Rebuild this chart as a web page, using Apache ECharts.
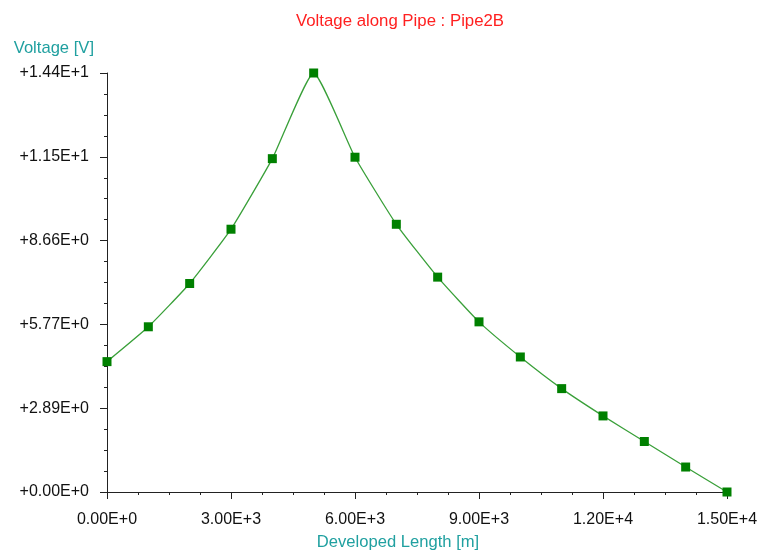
<!DOCTYPE html>
<html>
<head>
<meta charset="utf-8">
<title>Voltage along Pipe</title>
<script src="https://cdn.jsdelivr.net/npm/echarts@6/dist/echarts.min.js"></script>
<style>
  html, body { margin: 0; padding: 0; background: #fff; }
  #chart { width: 776px; height: 557px; }
</style>
</head>
<body>
<div id="chart"></div>
<script>
  // developed length [m] and voltage [V]
  const lengths = [0, 1000, 2000, 3000, 4000, 5000, 6000, 7000, 8000, 9000, 10000, 11000, 12000, 13000, 14000, 15000];
  const voltages = [4.49, 5.69, 7.18, 9.05, 11.48, 14.43, 11.53, 9.22, 7.40, 5.86, 4.65, 3.56, 2.62, 1.74, 0.86, 0.0];

  const xTickLabels = ["0.00E+0", "3.00E+3", "6.00E+3", "9.00E+3", "1.20E+4", "1.50E+4"];
  const yTickLabels = ["+0.00E+0", "+2.89E+0", "+5.77E+0", "+8.66E+0", "+1.15E+1", "+1.44E+1"];
  const xMax = 15000, xStep = 3000;
  const yMax = 14.43, yStep = 2.886;

  const font = "Liberation Sans, Arial, sans-serif";
  const teal = "#20a0a0";
  const axisColor = "#222";

  const chart = echarts.init(document.getElementById("chart"));
  chart.setOption({
    animation: false,
    title: {
      text: "Voltage along Pipe : Pipe2B",
      left: 291,
      top: 8,
      textStyle: { color: "#ff2020", fontFamily: font, fontSize: 16.8, fontWeight: "normal" },
    },
    grid: { left: 107, right: 49, top: 73, bottom: 65 },
    xAxis: {
      type: "value",
      min: 0,
      max: xMax,
      interval: xStep,
      name: "Developed Length [m]",
      nameLocation: "middle",
      nameGap: 42,
      nameTextStyle: { color: teal, fontFamily: font, fontSize: 16.6, padding: [0, 38, 0, 0] },
      axisLine: { show: true, lineStyle: { color: axisColor, width: 1 } },
      axisTick: { show: true, length: 7, lineStyle: { color: axisColor } },
      minorTick: { show: true, splitNumber: 4, length: 3, lineStyle: { color: axisColor } },
      splitLine: { show: false },
      axisLabel: {
        color: "#111",
        fontFamily: font,
        fontSize: 16,
        margin: 20,
        formatter: (v, i) => xTickLabels[i],
      },
    },
    yAxis: {
      type: "value",
      min: 0,
      max: yMax,
      interval: yStep,
      name: "Voltage [V]",
      nameLocation: "end",
      nameGap: 16,
      nameTextStyle: { color: teal, fontFamily: font, fontSize: 16.6, align: "right", padding: [0, 13, 0, 0] },
      axisLine: { show: true, lineStyle: { color: axisColor, width: 1 } },
      axisTick: { show: true, length: 7, lineStyle: { color: axisColor } },
      minorTick: { show: true, splitNumber: 4, length: 3, lineStyle: { color: axisColor } },
      splitLine: { show: false },
      axisLabel: {
        color: "#111",
        fontFamily: font,
        fontSize: 16,
        margin: 18,
        formatter: (v, i) => yTickLabels[i],
      },
    },
    series: [
      {
        type: "line",
        data: lengths.map((x, i) => [x, voltages[i]]),
        smooth: 0.15,
        symbol: "rect",
        symbolSize: 9,
        itemStyle: { color: "#008000" },
        lineStyle: { color: "#3aa03a", width: 1.3 },
      },
    ],
  });
</script>
</body>
</html>
